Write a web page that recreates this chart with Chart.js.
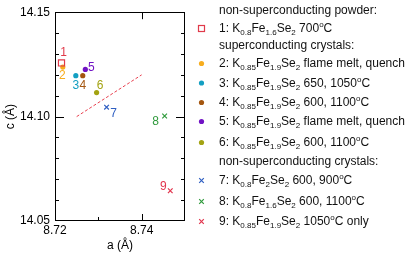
<!DOCTYPE html>
<html><head><meta charset="utf-8">
<script src="https://cdn.jsdelivr.net/npm/chart.js@4/dist/chart.umd.min.js"></script>
<style>
html,body{margin:0;padding:0;background:#fff;}
#wrap{position:relative;width:411px;height:255px;overflow:hidden;}
#c{position:absolute;left:0;top:0;}
#legend{position:absolute;left:0;top:0;width:411px;height:255px;font-family:"Liberation Sans",Arial,sans-serif;font-size:12px;color:#111;pointer-events:none;}
.row{position:absolute;left:219px;white-space:nowrap;line-height:14px;height:14px;}
.sb{font-size:8px;vertical-align:-3px;line-height:0;}
.sp{font-size:8px;vertical-align:5px;line-height:0;}
</style></head><body>
<div id="wrap"><canvas id="c" width="411" height="255"></canvas><div id="legend"></div></div>
<script>
// ---------- data ----------
const sampleIds = ['1','2','3','4','5','6','7','8','9'];
const aValues = [8.7215, 8.7218, 8.7248, 8.7264, 8.7270, 8.7296, 8.7319, 8.7453, 8.7466];
const cValues = [14.1257, 14.1237, 14.1196, 14.1196, 14.1226, 14.1115, 14.1045, 14.1003, 14.0645];
const kContent = ['0.8','0.85','0.85','0.85','0.85','0.85','0.8','0.8','0.85'];
const feContent = ['1.6','1.9','1.9','1.9','1.9','1.9','2','1.6','1.9'];
const seContent = ['2','2','2','2','2','2','2','2','2'];
const conditions = ['700°C','flame melt, quench','650, 1050°C','600, 1100°C','flame melt, quench','600, 1100°C','600, 900°C','600, 1100°C','1050°C only'];
const groupHeaders = ['non-superconducting powder:','superconducting crystals:','non-superconducting crystals:'];
const groupOf = [0,1,1,1,1,1,2,2,2];
const fitLineA = [8.725, 8.740];
const fitLineC = [14.100, 14.120];
const xLabeledTicks = [8.72, 8.74];
const yLabeledTicks = [14.05, 14.10, 14.15];
const xAxisTitle = 'a (Å)';
const yAxisTitle = 'c (Å)';

// ---------- styles ----------
const colors = ['#e03a4a','#f7ad1e','#139fc2','#a4560f','#7112c4','#a3a312','#2f5fc2','#2f9a3c','#e2354e'];
const markerStyles = ['rect','circle','circle','circle','circle','circle','crossRot','crossRot','crossRot'];
const labelOffsets = [[2,-10],[-0.5,9],[0,10],[0,10],[6,-2],[3.5,-7],[7,6],[-9,6],[-7,-4]];
const rowCenters = [10,28,45,63,82.5,102,121,142,161,180,201,221];
const FONT = '"Liberation Sans", Arial, sans-serif';

// ---------- legend (DOM text) ----------
function fmtCond(s){ return s.replace(/°C/g,'<span class="sp">o</span>C'); }
const legendEl = document.getElementById('legend');
const markerY = [];
let row = 0, lastGroup = -1;
sampleIds.forEach((id,i)=>{
  if (groupOf[i] !== lastGroup){
    lastGroup = groupOf[i];
    const h = document.createElement('div');
    h.className='row'; h.style.top=(rowCenters[row]-7)+'px';
    h.textContent = groupHeaders[lastGroup];
    legendEl.appendChild(h); row++;
  }
  const r = document.createElement('div');
  r.className='row'; r.style.top=(rowCenters[row]-7)+'px';
  r.innerHTML = id+': K<span class="sb">'+kContent[i]+'</span>Fe<span class="sb">'+feContent[i]+'</span>Se<span class="sb">'+seContent[i]+'</span> '+fmtCond(conditions[i]);
  legendEl.appendChild(r);
  markerY.push(rowCenters[row]+0.5);
  row++;
});

// ---------- chart ----------
const near = (v, arr) => arr.some(t => Math.abs(t - v) < 1e-6);
const pointDatasets = sampleIds.map((id,i)=>{
  const st = markerStyles[i];
  return {
    label: id,
    data: [{x: aValues[i], y: cValues[i]}],
    showLine: false,
    pointStyle: st,
    pointRadius: st==='circle' ? 2.6 : (st==='rect' ? 4.3 : 3.3),
    pointBorderWidth: st==='circle' ? 0 : 1.2,
    pointBackgroundColor: st==='circle' ? colors[i] : 'rgba(0,0,0,0)',
    pointBorderColor: colors[i],
    backgroundColor: colors[i],
    borderColor: colors[i]
  };
});
const fitDataset = {
  label: 'fit',
  data: fitLineA.map((a,k)=>({x:a, y:fitLineC[k]})),
  showLine: true, pointRadius: 0, borderColor: '#e8404f', borderWidth: 1, borderDash: [3,2]
};

function drawMarker(ctx, style, x, y, color){
  ctx.save();
  ctx.strokeStyle = color; ctx.fillStyle = color; ctx.lineWidth = 1.2;
  if (style==='circle'){ ctx.beginPath(); ctx.arc(x,y,2.6,0,Math.PI*2); ctx.fill(); }
  else if (style==='rect'){ ctx.strokeRect(x-3,y-3,6,6); }
  else { const d=2.3; ctx.beginPath(); ctx.moveTo(x-d,y-d); ctx.lineTo(x+d,y+d); ctx.moveTo(x-d,y+d); ctx.lineTo(x+d,y-d); ctx.stroke(); }
  ctx.restore();
}

const framePlugin = {
  id: 'frame',
  afterDatasetsDraw(chart){
    const {ctx, chartArea:a, scales:{x, y}} = chart;
    ctx.save();
    ctx.strokeStyle = '#000'; ctx.lineWidth = 1;
    ctx.strokeRect(Math.round(a.left)+0.5, Math.round(a.top)+0.5, Math.round(a.right-a.left)-1, Math.round(a.bottom-a.top)-1);
    ctx.beginPath();
    x.ticks.forEach(t=>{
      const px = Math.round(x.getPixelForValue(t.value))+0.5;
      if (px < a.left+2 || px > a.right-2) return;
      const major = near(t.value, xLabeledTicks);
      ctx.moveTo(px, a.bottom); ctx.lineTo(px, a.bottom-(major?7:4));
      if (major){ ctx.moveTo(px, a.top); ctx.lineTo(px, a.top+7); }
    });
    y.ticks.forEach(t=>{
      const py = Math.round(y.getPixelForValue(t.value))+0.5;
      if (py < a.top+2 || py > a.bottom-2) return;
      const major = near(t.value, yLabeledTicks);
      const L = major?9:4;
      ctx.moveTo(a.left, py); ctx.lineTo(a.left+L, py);
      ctx.moveTo(a.right, py); ctx.lineTo(a.right-L, py);
    });
    ctx.stroke();
    // point number labels
    ctx.font = '12px ' + FONT;
    ctx.textAlign = 'center'; ctx.textBaseline = 'middle';
    sampleIds.forEach((id,i)=>{
      const px = x.getPixelForValue(aValues[i]), py = y.getPixelForValue(cValues[i]);
      ctx.fillStyle = colors[i];
      ctx.fillText(id, px+labelOffsets[i][0], py+labelOffsets[i][1]);
    });
    // legend markers
    sampleIds.forEach((id,i)=> drawMarker(ctx, markerStyles[i], 201.5, markerY[i], colors[i]));
    ctx.restore();
  }
};

new Chart(document.getElementById('c'), {
  type: 'scatter',
  data: { datasets: [fitDataset, ...pointDatasets] },
  options: {
    responsive: false, animation: false, devicePixelRatio: 1,
    layout: { padding: { left: 0, top: 7, right: 226, bottom: 0 } },
    plugins: { legend: { display: false }, tooltip: { enabled: false } },
    scales: {
      x: {
        type: 'linear', min: 8.72, max: 8.75,
        grid: { display: false, drawTicks: false }, border: { display: false },
        ticks: { stepSize: 0.01, autoSkip: false, maxRotation: 0, padding: 2, color: '#000',
          font: { size: 12, family: FONT },
          callback: v => near(v, xLabeledTicks) ? v.toFixed(2) : '' },
        title: { display: true, text: xAxisTitle, color: '#000', font: { size: 12, family: FONT }, padding: { top: 0, bottom: 2 } },
        afterFit: s => { s.height = 34; }
      },
      y: {
        type: 'linear', min: 14.05, max: 14.15,
        grid: { display: false, drawTicks: false }, border: { display: false },
        ticks: { stepSize: 0.01, autoSkip: false, padding: 5, color: '#000',
          font: { size: 12, family: FONT },
          callback: v => near(v, yLabeledTicks) ? v.toFixed(2) : '' },
        title: { display: true, text: yAxisTitle, color: '#000', font: { size: 12, family: FONT }, padding: { top: 3, bottom: 0 } },
        afterFit: s => { s.width = 55; }
      }
    }
  },
  plugins: [framePlugin]
});
</script>
</body></html>
